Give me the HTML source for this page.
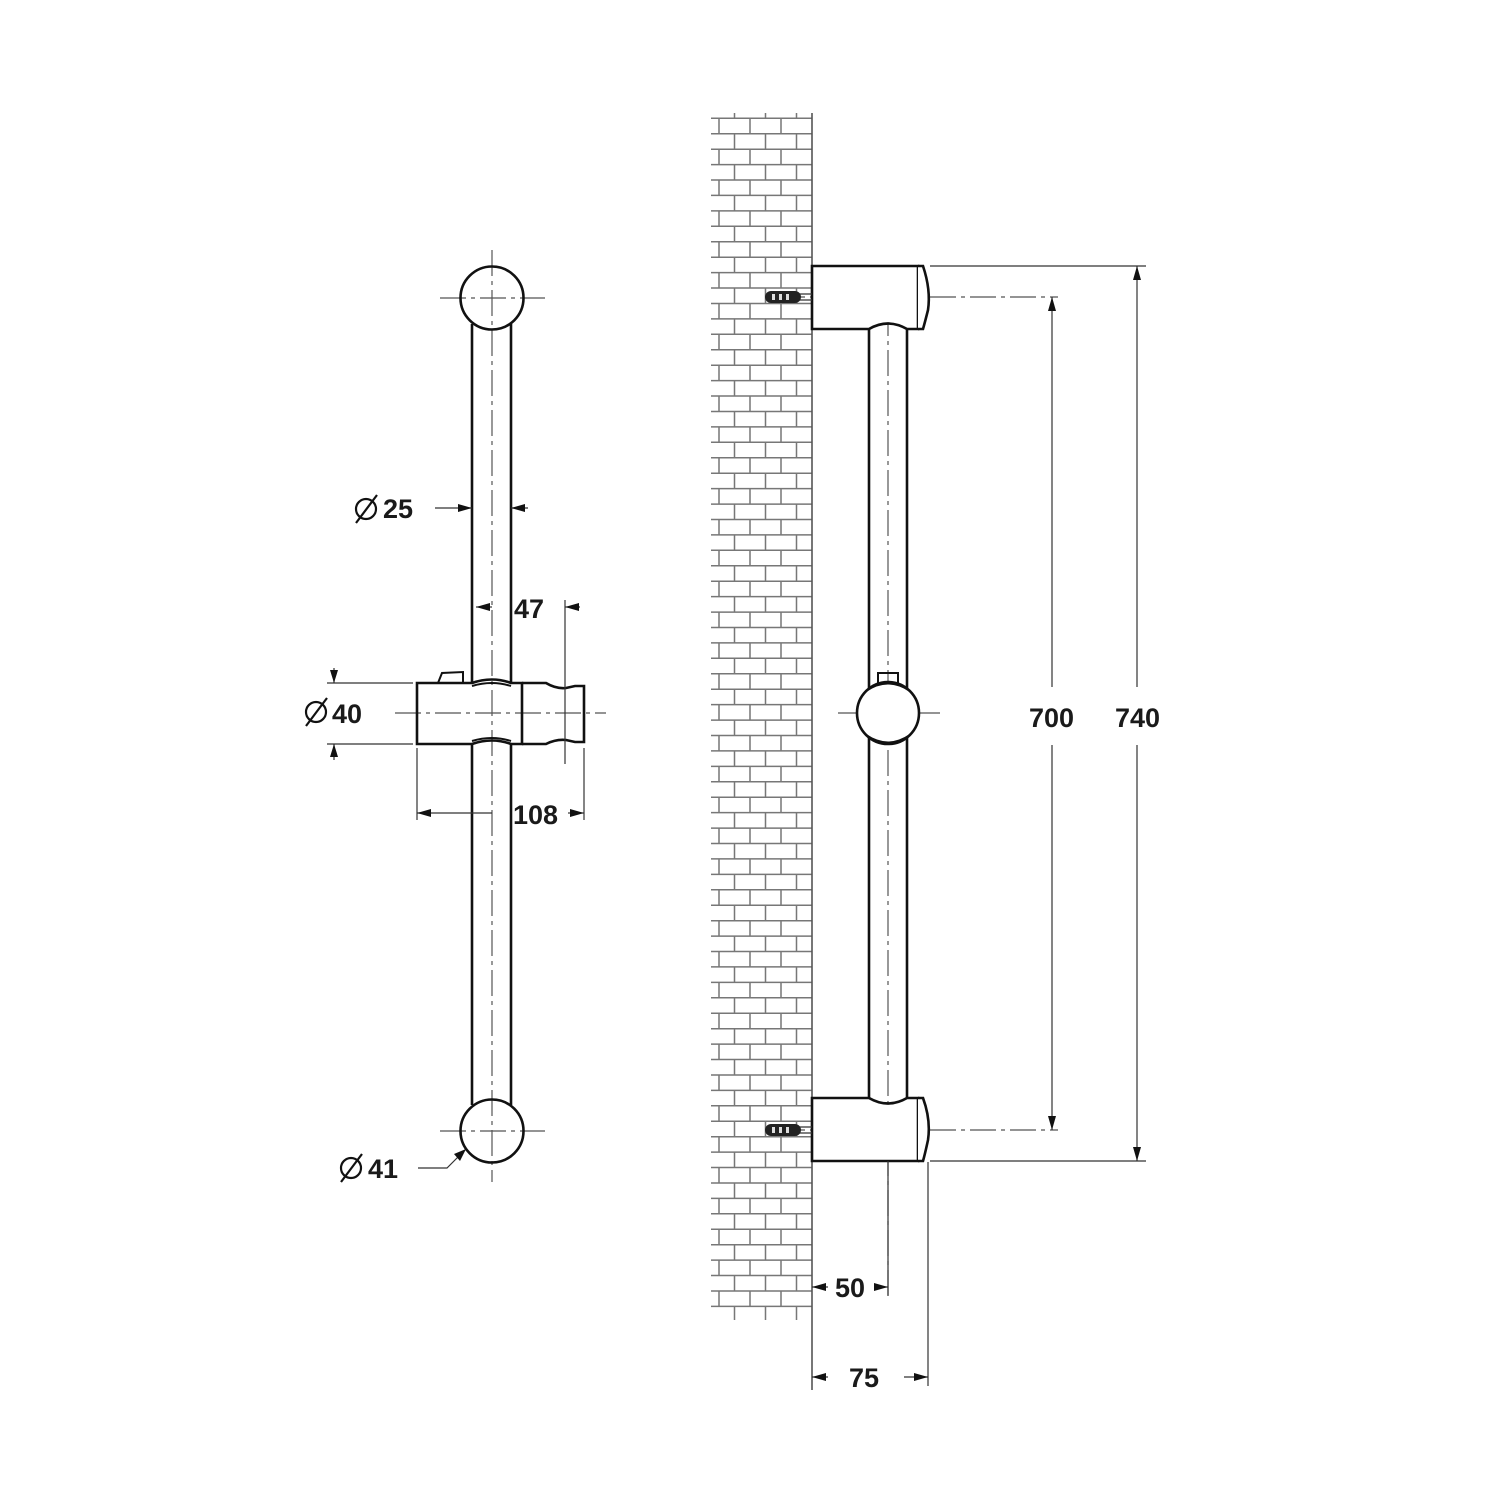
<!DOCTYPE html>
<html><head><meta charset="utf-8"><style>
html,body{margin:0;padding:0;background:#fff;}
svg{display:block;}
text{font-family:"Liberation Sans",sans-serif;font-weight:bold;fill:#1a1a1a;}
</style></head><body>
<svg width="1500" height="1500" viewBox="0 0 1500 1500" xmlns="http://www.w3.org/2000/svg">
<g id="bricks" stroke="#777" stroke-width="1.5" fill="none"></g>

<!-- ===== LEFT VIEW ===== -->
<g stroke="#555" stroke-width="1.2" stroke-dasharray="26 5 4 5" fill="none">
<line x1="492" y1="250" x2="492" y2="1182"/>
<line x1="440" y1="298" x2="545" y2="298"/>
<line x1="395" y1="713" x2="606" y2="713"/>
<line x1="440" y1="1131" x2="545" y2="1131"/>
</g>
<g stroke="#111" stroke-width="2.6" fill="none">
<circle cx="492" cy="298" r="31.5"/>
<circle cx="492" cy="1131" r="31.5"/>
<line x1="472" y1="324" x2="472" y2="684"/>
<line x1="511" y1="324" x2="511" y2="684"/>
<line x1="472" y1="743" x2="472" y2="1105"/>
<line x1="511" y1="743" x2="511" y2="1105"/>
<path d="M417 683 L472 683 Q492 676 511 683 L522 683 L522 744 L511 744 Q492 737 472 744 L417 744 Z"/>
<path d="M472 686 Q492 680 511 686" stroke-width="2"/>
<path d="M472 741 Q492 735 511 741" stroke-width="2"/>
<path d="M522 683 L546 683 Q556 689 566 688 L575 686 L584 686 L584 742 L575 742 L566 740 Q556 739 546 744 L522 744"/>
<path d="M438 683 L442 673 L463 672 L463 683" stroke-width="2"/>
</g>
<g stroke="#333" stroke-width="1.2" fill="none">
<line x1="435" y1="508" x2="472" y2="508"/>
<line x1="511" y1="508" x2="528" y2="508"/>
<line x1="476" y1="607" x2="492" y2="607"/>
<line x1="565" y1="607" x2="580" y2="607"/>
<line x1="565" y1="600" x2="565" y2="764"/>
<line x1="327" y1="683" x2="413" y2="683"/>
<line x1="327" y1="744" x2="413" y2="744"/>
<line x1="334" y1="668" x2="334" y2="683"/>
<line x1="334" y1="744" x2="334" y2="760"/>
<line x1="417" y1="748" x2="417" y2="820"/>
<line x1="584" y1="748" x2="584" y2="820"/>
<line x1="417" y1="813" x2="492" y2="813"/>
<line x1="568" y1="813" x2="584" y2="813"/>
<polyline points="418,1168 447,1168 458,1157"/>
</g>
<g fill="#111">
<polygon points="472,508 458,504 458,512"/>
<polygon points="511,508 525,504 525,512"/>
<polygon points="476,607 490,603 490,611"/>
<polygon points="565,607 579,603 579,611"/>
<polygon points="334,683 330,670 338,670"/>
<polygon points="334,744 330,757 338,757"/>
<polygon points="417,813 431,809 431,817"/>
<polygon points="584,813 570,809 570,817"/>
<polygon points="466,1149 454,1154 460,1161"/>
</g>
<g font-size="27">
<text x="383" y="518">25</text>
<text x="514" y="618">47</text>
<text x="332" y="723">40</text>
<text x="513" y="824">108</text>
<text x="368" y="1178">41</text>
</g>
<g stroke="#111" stroke-width="2.2" fill="none">
<circle cx="366" cy="509" r="10"/><line x1="356" y1="523" x2="377" y2="495"/>
<circle cx="316" cy="712" r="10"/><line x1="306" y1="726" x2="327" y2="698"/>
<circle cx="351" cy="1168" r="10"/><line x1="341" y1="1182" x2="362" y2="1154"/>
</g>

<!-- ===== RIGHT VIEW ===== -->
<line x1="812" y1="113" x2="812" y2="1390" stroke="#555" stroke-width="1.6"/>

<g stroke="#555" stroke-width="1.2" stroke-dasharray="26 5 4 5" fill="none">
<line x1="888" y1="310" x2="888" y2="1295"/>
<line x1="770" y1="297" x2="1058" y2="297"/>
<line x1="770" y1="1130" x2="1058" y2="1130"/>
<line x1="838" y1="713" x2="940" y2="713"/>
</g>
<g stroke="#111" stroke-width="2.6" fill="#fff">
<line x1="869" y1="328" x2="869" y2="1098"/>
<line x1="907" y1="328" x2="907" y2="1098"/>
<path d="M812 266 L918 266 L918 329 L907 329 Q888 318 869 329 L812 329 Z"/>
<path d="M918 266 L923 266 Q931 290 928 310 Q925 322 923 329 L918 329"/>
<path d="M812 1098 L869 1098 Q888 1109 907 1098 L918 1098 L918 1161 L812 1161 Z"/>
<path d="M918 1098 L923 1098 Q931 1120 928 1140 Q925 1154 923 1161 L918 1161"/>
<circle cx="888" cy="713" r="31"/>
<path d="M878 684 L878 673 L898 673 L898 684" fill="none" stroke-width="2"/>
<path d="M866 691 Q888 676 910 691" fill="none" stroke-width="2"/>
<path d="M866 735 Q888 750 910 735" fill="none" stroke-width="2"/>
</g>
<g>
<line x1="795" y1="294" x2="812" y2="294" stroke="#333" stroke-width="1.3"/>
<line x1="795" y1="300" x2="812" y2="300" stroke="#333" stroke-width="1.3"/>
<rect x="765" y="291" width="36" height="12" rx="6" fill="#222"/>
<line x1="795" y1="1127" x2="812" y2="1127" stroke="#333" stroke-width="1.3"/>
<line x1="795" y1="1133" x2="812" y2="1133" stroke="#333" stroke-width="1.3"/>
<rect x="765" y="1124" width="36" height="12" rx="6" fill="#222"/>
<g fill="#ddd"><rect x="772" y="294" width="3" height="6"/><rect x="779" y="294" width="3" height="6"/><rect x="786" y="294" width="3" height="6"/><rect x="772" y="1127" width="3" height="6"/><rect x="779" y="1127" width="3" height="6"/><rect x="786" y="1127" width="3" height="6"/></g>
</g>
<g stroke="#333" stroke-width="1.2" fill="none">
<line x1="930" y1="266" x2="1146" y2="266"/>
<line x1="930" y1="1161" x2="1146" y2="1161"/>
<line x1="1052" y1="297" x2="1052" y2="687"/>
<line x1="1052" y1="745" x2="1052" y2="1130"/>
<line x1="1137" y1="266" x2="1137" y2="687"/>
<line x1="1137" y1="745" x2="1137" y2="1161"/>
<line x1="888" y1="1161" x2="888" y2="1296"/>
<line x1="928" y1="1162" x2="928" y2="1386"/>
<line x1="812" y1="1287" x2="828" y2="1287"/>
<line x1="874" y1="1287" x2="888" y2="1287"/>
<line x1="812" y1="1377" x2="828" y2="1377"/>
<line x1="904" y1="1377" x2="928" y2="1377"/>
</g>
<g fill="#111">
<polygon points="1052,297 1048,311 1056,311"/>
<polygon points="1052,1130 1048,1116 1056,1116"/>
<polygon points="1137,266 1133,280 1141,280"/>
<polygon points="1137,1161 1133,1147 1141,1147"/>
<polygon points="812,1287 826,1283 826,1291"/>
<polygon points="888,1287 874,1283 874,1291"/>
<polygon points="812,1377 826,1373 826,1381"/>
<polygon points="928,1377 914,1373 914,1381"/>
</g>
<g font-size="27">
<text x="1029" y="727">700</text>
<text x="1115" y="727">740</text>
<text x="835" y="1297">50</text>
<text x="849" y="1387">75</text>
</g>
</svg>
<script>
(function(){
var g=document.getElementById('bricks');var d='';
var y0=118.3,s=15.43,n=77;
for(var i=0;i<=n;i++){var y=(y0+i*s).toFixed(1);d+='M711 '+y+'H812';}
for(var i=0;i<n;i++){var ya=y0+i*s,yb=ya+s;var xs=(i%2==0)?[719,750,781]:[734.5,765.5,796.5];
for(var k=0;k<3;k++)d+='M'+xs[k]+' '+ya.toFixed(1)+'V'+yb.toFixed(1);}
[734.5,765.5,796.5].forEach(function(x){d+='M'+x+' 113V'+y0+'M'+x+' '+(y0+n*s).toFixed(1)+'V1320';});
var p=document.createElementNS('http://www.w3.org/2000/svg','path');p.setAttribute('d',d);g.appendChild(p);
})();
</script>
</body></html>
